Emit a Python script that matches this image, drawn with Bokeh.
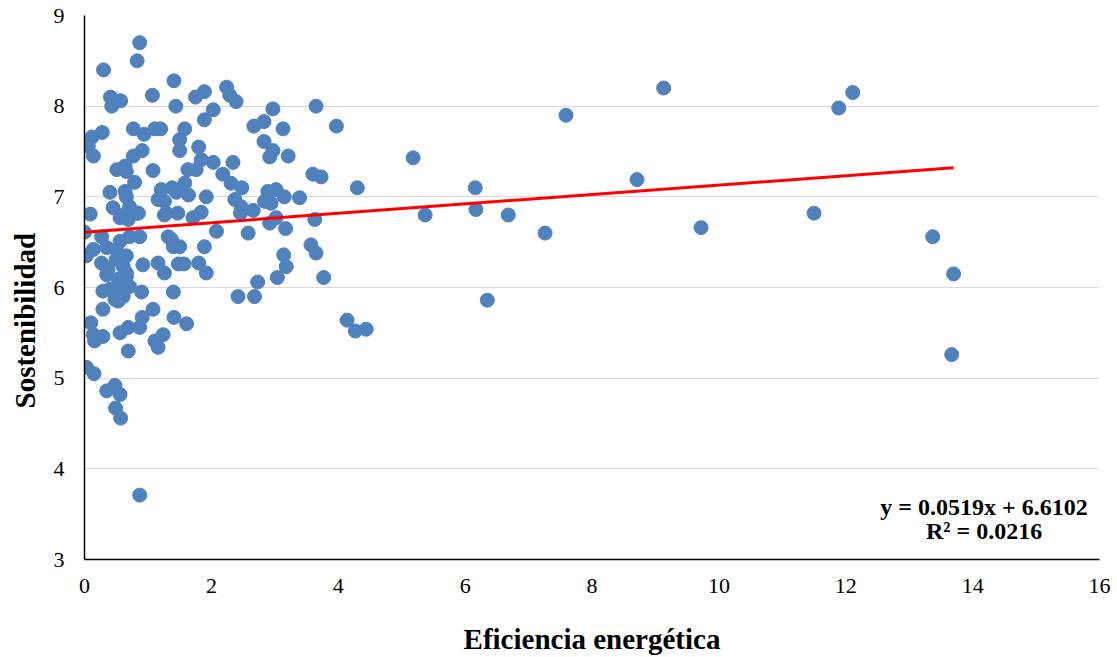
from bokeh.plotting import figure
from bokeh.models import Range1d, Label, FixedTicker, Title
from bokeh.embed import file_html
from bokeh.resources import INLINE

# Eficiencia energética (x) and Sostenibilidad (y)
eficiencia = [
    0.87, 0.83, 0.30, 1.41, 0.41, 0.57, 0.43, 1.07, 1.44, 1.75, 1.89, 2.24, 2.29, 2.39, 2.03, 1.89,
    2.97, 3.65, 3.97, 2.67, 2.83, 2.83, 2.97, 2.92, 3.13, 3.21, 0.28, 0.12, 0.06, 0.14, 0.77, 0.94,
    1.11, 1.20, 1.58, 1.50, 1.50, 1.80, 0.91, 0.77,
    1.08, 0.51, 0.64, 0.66, 1.84, 2.03, 2.34, 2.18, 1.63, 1.76, 2.31, 2.48, 0.79, 0.40, 0.64, 1.21,
    1.38, 1.45, 1.58, 1.64, 1.92, 1.16, 3.60, 3.73, 4.30, 5.18, 2.89, 3.02, 3.15, 3.39, 0.66,
    0.45, 0.09, 0.71, 0.82, 0.61, 0.56, 1.29, 1.47, 1.84, 2.37, 2.66, 2.84, 2.94, 2.47, 2.46, 1.71,
    2.08, 2.58, 3.02, 2.92, 3.17, 3.63, 0.00, 0.27, 0.56, 0.71, 0.87, 0.69, 1.32, 1.26, 1.26, 0.85,
    0.14, 0.35, 0.50, 0.66, 0.03, 0.27, 0.37, 0.50, 0.61, 0.66, 0.92, 1.16, 0.35, 0.53, 0.71, 0.53,
    1.40, 1.50, 1.89, 1.37, 1.26, 1.48, 1.57, 1.80, 1.92, 3.57, 3.65, 3.14, 3.18, 3.04, 2.73, 3.77,
    0.58, 0.66,
    0.40, 0.29, 0.48, 0.61, 0.90, 0.29, 0.53, 1.08, 1.40, 2.42, 2.68, 0.91, 0.87, 0.56, 0.69, 0.10,
    0.14, 0.16, 0.29, 0.69, 1.11, 1.24, 1.16, 1.41, 1.61, 4.14, 4.27, 4.44, 0.03, 0.15,
    0.35, 0.48, 0.56, 0.49, 0.57, 0.87,
    6.16, 6.17, 5.37, 6.68, 6.35, 7.26, 7.59, 8.71, 9.13, 9.72, 11.50, 11.89, 12.11, 13.37, 13.70, 13.67,
]
sostenibilidad = [
    8.70, 8.50, 8.40, 8.28, 8.10, 8.06, 8.00, 8.12, 8.00, 8.10, 8.16, 8.21, 8.12, 8.05, 7.96, 7.85,
    7.97, 8.00, 7.78, 7.78, 7.83, 7.61, 7.51, 7.44, 7.75, 7.45, 7.71, 7.66, 7.56, 7.45, 7.75, 7.69,
    7.75, 7.75, 7.75, 7.63, 7.51, 7.55, 7.51, 7.45,
    7.29, 7.30, 7.34, 7.28, 7.41, 7.38, 7.38, 7.25, 7.30, 7.30, 7.15, 7.10, 7.16, 7.05, 7.06, 7.08,
    7.10, 7.05, 7.15, 7.02, 7.00, 6.97, 7.25, 7.22, 7.10, 7.43, 7.06, 7.08, 7.00, 6.99, 7.00,
    6.88, 6.81, 6.89, 6.82, 6.80, 6.77, 6.82, 6.82, 6.83, 6.97, 6.85, 6.95, 6.93, 6.89, 6.82, 6.77,
    6.62, 6.60, 6.77, 6.71, 6.65, 6.75, 6.61, 6.56, 6.51, 6.56, 6.56, 6.75, 6.56, 6.80, 6.95, 6.82,
    6.42, 6.44, 6.42, 6.35, 6.35, 6.27, 6.20, 6.31, 6.23, 6.16, 6.25, 6.27, 6.14, 6.09, 6.01, 6.00,
    6.45, 6.45, 6.45, 6.53, 6.16, 6.26, 6.26, 6.27, 6.16, 6.47, 6.38, 6.36, 6.23, 6.11, 6.06, 6.11,
    6.03, 6.12,
    5.98, 5.96, 5.87, 5.90, 5.95, 5.76, 5.85, 5.76, 5.95, 5.90, 5.90, 5.67, 5.56, 5.50, 5.56, 5.61,
    5.48, 5.41, 5.46, 5.30, 5.41, 5.48, 5.34, 5.67, 5.60, 5.64, 5.52, 5.54, 5.12, 5.05,
    4.86, 4.92, 4.82, 4.67, 4.56, 3.71,
    7.10, 6.86, 6.80, 6.80, 5.86, 6.60, 7.90, 7.19, 8.20, 6.66, 6.82, 7.98, 8.15, 6.56, 6.15, 5.26,
]

slope = 0.0519
intercept = 6.6102
r2 = 0.0216
x_ticks = [0, 2, 4, 6, 8, 10, 12, 14, 16]
y_ticks = [3, 4, 5, 6, 7, 8, 9]

SERIF = "Liberation Serif"

p = figure(width=1117, height=657, output_backend="svg", toolbar_location=None,
           x_range=Range1d(0, 16), y_range=Range1d(3, 9),
           min_border_left=83, min_border_right=18, min_border_top=15, min_border_bottom=96)
p.outline_line_color = None
p.background_fill_color = "white"

p.xgrid.grid_line_color = None
p.ygrid.grid_line_color = "#D9D9D9"
p.ygrid.grid_line_width = 1

xax = p.xaxis[0]
yax = p.yaxis[0]
xax.ticker = FixedTicker(ticks=x_ticks)
yax.ticker = FixedTicker(ticks=y_ticks)
for ax in (xax, yax):
    ax.major_tick_out = 0
    ax.major_tick_in = 0
    ax.minor_tick_out = 0
    ax.minor_tick_in = 0
    ax.axis_line_color = "black"
    ax.axis_line_width = 1.5
    ax.major_label_text_font = SERIF
    ax.major_label_text_font_size = "22px"
    ax.major_label_text_color = "black"
yax.major_label_standoff = 20
xax.major_label_standoff = 19

xax.axis_label = "Eficiencia energética"
xax.axis_label_text_font = SERIF
xax.axis_label_text_font_style = "bold"
xax.axis_label_text_font_size = "29px"
xax.axis_label_text_color = "black"
xax.axis_label_standoff = 27

p.scatter(eficiencia, sostenibilidad, size=14, fill_color="#4F81BD", line_color="#4F81BD", line_width=1)

xmax = max(eficiencia)
p.line([0, xmax], [intercept, intercept + slope * xmax], line_color="#FF0000", line_width=3)

ytitle = Title(text="Sostenibilidad", align="left", offset=151, vertical_align="top",
               standoff=16, text_font=SERIF, text_font_style="bold", text_font_size="29px",
               text_color="black")
p.add_layout(ytitle, "left")

eq1 = f"y = {slope:.4f}x + {intercept:.4f}"
eq2 = f"R² = {r2:.4f}"
p.add_layout(Label(x=14.18, y=3.58, text=eq1, text_align="center", text_baseline="middle",
                   text_font=SERIF, text_font_style="bold", text_font_size="24px", text_color="black"))
p.add_layout(Label(x=14.18, y=3.31, text=eq2, text_align="center", text_baseline="middle",
                   text_font=SERIF, text_font_style="bold", text_font_size="24px", text_color="black"))

open("out.html", "w").write(file_html(p, INLINE))
